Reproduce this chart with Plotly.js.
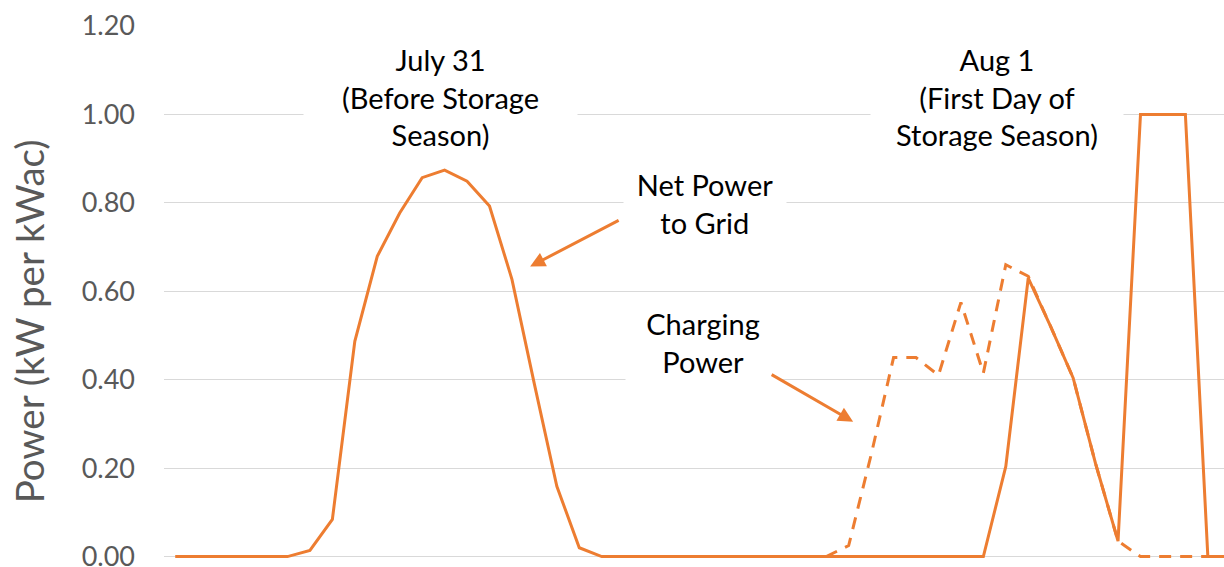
<!DOCTYPE html>
<html>
<head>
<meta charset="utf-8">
<script src="https://cdn.plot.ly/plotly-3.0.1.min.js"></script>
<style>
  html, body { margin: 0; padding: 0; background: #ffffff; }
  #chart { width: 1224px; height: 567px; }
</style>
</head>
<body>
<div id="chart"></div>
<script>
// Hour index across July 31 (0-23) and Aug 1 (24-47)
const hours = [0,1,2,3,4,5,6,7,8,9,10,11,12,13,14,15,16,17,18,19,20,21,22,23,
               24,25,26,27,28,29,30,31,32,33,34,35,36,37,38,39,40,41,42,43,44,45,46,47];

// Net power to grid (kW per kWac)
const netPower = [0,0,0,0,0,0,0.014,0.084,0.487,0.679,0.777,0.857,0.874,0.849,0.793,0.627,0.39,0.159,0.02,0,0,0,0,0,
                  0,0,0,0,0,0,0,0,0,0,0,0,0,0.204,0.630,0.52,0.404,0.21,0.035,1.0,1.0,1.0,0,0];

// Charging power (kW per kWac); no charging series before the storage season starts
const chargingPower = [null,null,null,null,null,null,null,null,null,null,null,null,null,null,null,null,null,null,null,null,null,null,null,null,
                       null,null,null,null,null,0,0.025,0.23,0.45,0.45,0.41,0.575,0.415,0.66,0.634,0.52,0.404,0.21,0.035,0,0,0,0,0];

const yTicks = [0, 0.2, 0.4, 0.6, 0.8, 1.0, 1.2];
const yTickLabels = ["0.00","0.20","0.40","0.60","0.80","1.00","1.20"];
const yTitle = "Power (kW per kWac)";

const orange = "#ED7D31";
const fontFam = "Lato, 'Open Sans', sans-serif";

const traces = [
  {
    x: hours, y: chargingPower, type: "scatter", mode: "lines",
    line: { color: orange, width: 3, dash: "12px,9px" },
    name: "Charging Power", hoverinfo: "skip", connectgaps: false
  },
  {
    x: hours, y: netPower, type: "scatter", mode: "lines",
    line: { color: orange, width: 3 },
    name: "Net Power to Grid", hoverinfo: "skip"
  }
];

const textFont = { family: fontFam, size: 29, color: "#000000" };

const layout = {
  width: 1224, height: 567,
  margin: { l: 164, r: 0, t: 26, b: 6 },
  paper_bgcolor: "#ffffff", plot_bgcolor: "#ffffff",
  showlegend: false,
  xaxis: {
    range: [-0.5, 46.72], showgrid: false, zeroline: false,
    showticklabels: false, showline: false, ticks: ""
  },
  yaxis: {
    range: [-0.01, 1.2], tickvals: yTicks, ticktext: yTickLabels,
    showgrid: true, gridcolor: "#d9d9d9", gridwidth: 1,
    zeroline: false, showline: false, ticks: "",
    ticklabelstandoff: 28, ticklabeloverflow: "allow",
    tickfont: { family: fontFam, size: 27, color: "#595959" }
  },
  annotations: [
    { x: -0.1274, y: 0.448, xref: "paper", yref: "paper", text: yTitle, textangle: -90,
      showarrow: false, xanchor: "center", yanchor: "middle",
      font: { family: fontFam, size: 38.5, color: "#595959" } },
    { x: 11.8, y: 1.04, xref: "x", yref: "y", text: "July 31<br>(Before Storage<br>Season)",
      showarrow: false, font: textFont, bgcolor: "#ffffff", width: 265, borderpad: 4, align: "center" },
    { x: 36.6, y: 1.04, xref: "x", yref: "y", text: "Aug 1<br>(First Day of<br>Storage Season)",
      showarrow: false, font: textFont, bgcolor: "#ffffff", width: 244, borderpad: 4, align: "center" },
    { x: 23.6, y: 0.798, xref: "x", yref: "y", text: "Net Power<br>to Grid",
      showarrow: false, font: textFont, bgcolor: "#ffffff", width: 154, borderpad: 4, align: "center" },
    { x: 23.5, y: 0.485, xref: "x", yref: "y", text: "Charging<br>Power",
      showarrow: false, font: textFont, bgcolor: "#ffffff", width: 146, borderpad: 4, align: "center" },
    // arrows
    { x: 15.81, y: 0.656, xref: "x", yref: "y", text: "", showarrow: true,
      ax: 90, ay: -47, arrowhead: 2, arrowsize: 1, arrowwidth: 3, arrowcolor: orange, standoff: 0 },
    { x: 30.2, y: 0.305, xref: "x", yref: "y", text: "", showarrow: true,
      ax: -83, ay: -48, arrowhead: 2, arrowsize: 1, arrowwidth: 3, arrowcolor: orange, standoff: 0 }
  ]
};

Plotly.newPlot("chart", traces, layout, { displayModeBar: false, staticPlot: true });
</script>
</body>
</html>
